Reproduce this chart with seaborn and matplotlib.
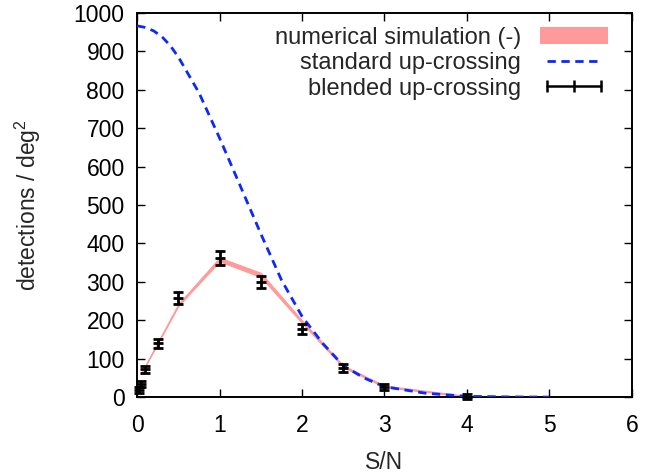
import numpy as np
import pandas as pd
import matplotlib
matplotlib.use("Agg")
import matplotlib.pyplot as plt
import seaborn as sns
from matplotlib.patches import Patch
from matplotlib.lines import Line2D

# ------------------------------
# dados
# ------------------------------
sim_sn = [0.05, 0.5, 1.0, 1.5, 2.0, 2.5, 3.0, 4.0, 5.0]
sim_mid = [62, 240, 358, 318, 196, 80, 28, 2, 0]
sim_half = [1, 2.5, 5, 5.5, 3.5, 2.5, 2, 1, 0.5]

std_sn = [0, 0.1, 0.2, 0.3, 0.4, 0.5, 0.75, 1.0, 1.25, 1.5, 1.75, 2.0, 2.25, 2.5, 2.75, 3.0, 3.5, 4.0, 4.5, 5.0]
std_det = [966, 962, 953, 938, 915, 885, 792, 674, 550, 425, 305, 210, 140, 82, 50, 27, 10, 2, 0.5, 0]

bl_sn = [0.02, 0.05, 0.1, 0.25, 0.5, 1.0, 1.5, 2.0, 2.5, 3.0, 4.0]
bl_det = [18, 35, 72, 140, 258, 362, 300, 176, 76, 26, 1]
bl_err = [7, 8, 10, 12, 15, 19, 16, 13, 10, 8, 7]

# ------------------------------
# estilo
# ------------------------------
sns.set_theme(style="ticks")
plt.rcParams["font.family"] = ["Liberation Sans", "DejaVu Sans"]
plt.rcParams["mathtext.fontset"] = "custom"
plt.rcParams["mathtext.rm"] = "Liberation Sans"

fig, ax = plt.subplots(figsize=(6.5, 4.75), dpi=100)
fig.subplots_adjust(left=0.211, right=0.972, bottom=0.164, top=0.973)

sim_lo = np.array(sim_mid) - np.array(sim_half)
sim_hi = np.array(sim_mid) + np.array(sim_half)
ax.fill_between(sim_sn, sim_lo, sim_hi, color="#ff9a9a", lw=0.8, edgecolor="#ff9a9a", zorder=2)

std_df = pd.DataFrame({"sn": std_sn, "det": std_det})
sns.lineplot(data=std_df, x="sn", y="det", ax=ax, color="#0a28ff", lw=2.0,
             dashes=False, zorder=3)
ax.lines[-1].set_dashes((3, 2))

ax.errorbar(bl_sn, bl_det, yerr=bl_err, fmt="_", color="black", ms=7.5, mew=2,
            elinewidth=2, capsize=3.8, capthick=2, zorder=4, clip_on=False)

ax.set_xlim(0, 6)
ax.set_ylim(0, 1000)
ax.set_xticks(range(0, 7))
ax.set_yticks(range(0, 1001, 100))
ax.set_xlabel("S/N", fontsize=16.5, labelpad=10)
ax.set_ylabel("detections / deg$^2$", fontsize=16.5, labelpad=22)
ax.tick_params(direction="in", length=6, width=1, labelsize=16.5,
               top=True, right=True, colors="black")
ax.tick_params(axis="x", pad=12)
ax.tick_params(axis="y", pad=9)
for s in ax.spines.values():
    s.set_linewidth(1.4)
    s.set_color("black")
    s.set_visible(True)

handles = [
    Patch(facecolor="#ff9a9a", edgecolor="none"),
    Line2D([], [], color="#0a28ff", lw=2.0, dashes=(3, 2)),
    Line2D([], [], color="black", lw=1.8, marker="|", ms=9, mew=1.8),
]
labels = ["numerical simulation (-)", "standard up-crossing", "blended up-crossing"]
ax.legend(handles, labels, loc="upper right", bbox_to_anchor=(0.976, 0.995),
          frameon=False, markerfirst=False,
          fontsize=17, numpoints=3, handlelength=2.9, handleheight=0.7,
          labelspacing=0.15, borderaxespad=0.1, handletextpad=0.8)

fig.savefig("out.png", dpi=100)
